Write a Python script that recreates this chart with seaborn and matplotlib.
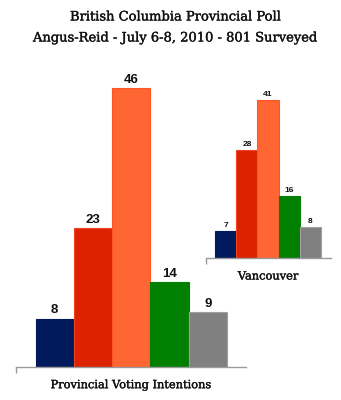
import matplotlib
matplotlib.use("Agg")
import matplotlib.pyplot as plt
import matplotlib.patheffects as pe
import seaborn as sns
import pandas as pd

parties = ["Conservative", "BC Liberal", "BC NDP", "Green", "Other"]
provincial = [8, 23, 46, 14, 9]
vancouver = [7, 28, 41, 16, 8]
colors = ["#001A5C", "#DD2200", "#FF6633", "#007F00", "#808080"]
edges = ["#001A5C", "#EE4422", "#FF5522", "#007F00", "#A0A0A0"]
title_lines = ["British Columbia Provincial Poll", "Angus-Reid - July 6-8, 2010 - 801 Surveyed"]
main_label = "Provincial Voting Intentions"
inset_label = "Vancouver"

sns.set_theme(style="white")
plt.rcParams["font.family"] = ["DejaVu Sans"]

fig = plt.figure(figsize=(3.41, 4.00), dpi=100)
fig.patch.set_facecolor("white")

W, H = 341, 400
ax_main = fig.add_axes([16 / W, (H - 367) / H, 230 / W, 297 / H])
ax_in = fig.add_axes([205.7 / W, (H - 258.3) / H, 125 / W, 168.3 / H])

heavy = [pe.withStroke(linewidth=0.25, foreground="#111111")]


def draw(ax, values, xlim, ylim, fs, label, lfs):
    df = pd.DataFrame({"party": parties, "value": values})
    sns.barplot(data=df, x="party", y="value", hue="party", palette=colors,
                width=1.0, legend=False, ax=ax, saturation=1)
    for p, ec in zip(ax.patches, edges):
        p.set_edgecolor(ec)
        p.set_linewidth(0.8)
    for c in ax.containers:
        ax.bar_label(c, padding=1.5, fontsize=fs, fontweight="bold",
                     family="Liberation Sans", color="#111111")
    ax.set_xlim(*xlim)
    ax.set_ylim(*ylim)
    ax.set_facecolor("none")
    for s in ["top", "right", "left"]:
        ax.spines[s].set_visible(False)
    ax.spines["bottom"].set_color("#9a9a9a")
    ax.spines["bottom"].set_linewidth(1.0)
    ax.set_yticks([])
    ax.set_xticks([xlim[0]])
    ax.set_xticklabels([""])
    ax.tick_params(axis="x", length=4, width=1.0, color="#9a9a9a", bottom=True, direction="out")
    ax.set_ylabel("")
    ax.set_xlabel(label, family="DejaVu Serif", fontsize=lfs, color="#111111", labelpad=2,
                  path_effects=heavy)


draw(ax_main, provincial, (-1.01, 5.0), (0, 49), 9.5, main_label, 8.2)
draw(ax_in, vancouver, (-0.955, 4.975), (0, 43.5), 6.0, inset_label, 8.2)

fig.text(0.512, 1 - 17 / H, title_lines[0], ha="center", va="center",
         family="DejaVu Serif", fontsize=9.4, color="#111111", path_effects=heavy)
fig.text(0.512, 1 - 38 / H, title_lines[1], ha="center", va="center",
         family="DejaVu Serif", fontsize=9.4, color="#111111", path_effects=heavy)

fig.savefig("out.png", dpi=100, facecolor="white")
